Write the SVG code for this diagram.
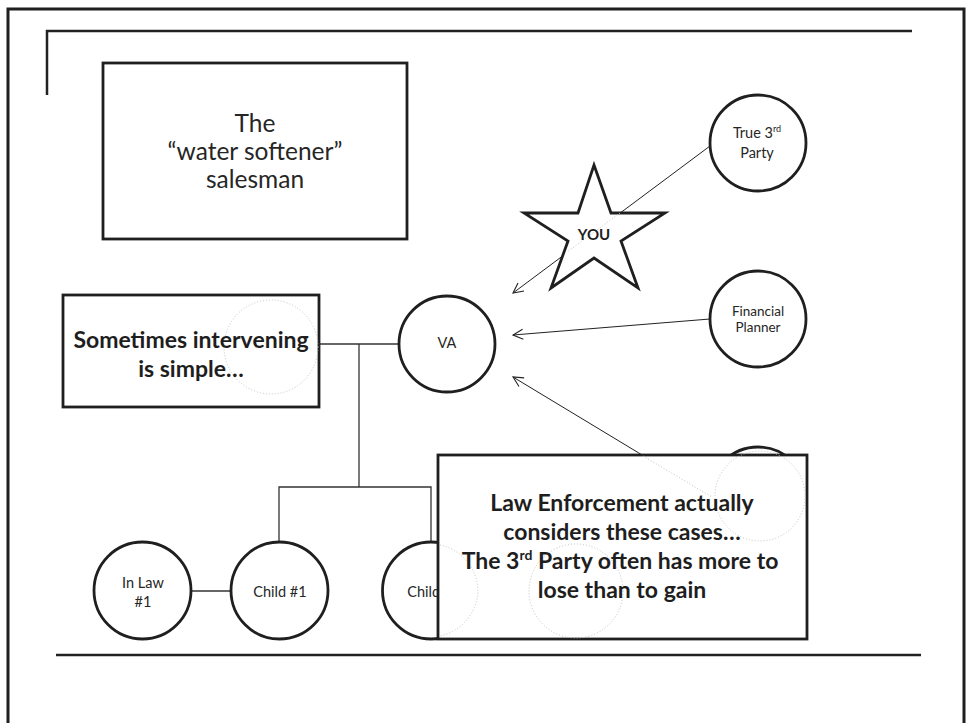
<svg xmlns="http://www.w3.org/2000/svg" width="969" height="723" viewBox="0 0 969 723">
  <style>
    .frame { fill: none; stroke: #1f1f1f; stroke-width: 3; }
    .rule { fill: none; stroke: #222; stroke-width: 2.5; }
    .shape { fill: #fff; stroke: #1f1f1f; stroke-width: 2.8; }
    .link { fill: none; stroke: #333; stroke-width: 1.3; }
    .arrow { fill: none; stroke: #222; stroke-width: 1; }
    .ghost { fill: none; stroke: #c4c4c4; stroke-width: 1; stroke-dasharray: 1 2; }
    .t { font-family: Lato, "Liberation Sans", sans-serif; fill: #262626; text-anchor: middle; }
    .big { font-size: 24.5px; }
    .bold { font-size: 23px; font-weight: bold; fill: #1e1e1e; }
    .small { font-size: 14.5px; }
    .tiny { font-size: 13.5px; }
    .you { font-size: 15px; font-weight: bold; fill: #1e1e1e; }
  </style>
  <defs>
    <marker id="open" viewBox="0 0 12 12" refX="11" refY="6" markerWidth="12" markerHeight="12" markerUnits="userSpaceOnUse" orient="auto">
      <path d="M1,1 L11,6 L1,11" fill="none" stroke="#222" stroke-width="1.1"/>
    </marker>
  </defs>

  <rect width="969" height="723" fill="#fff"/>

  <!-- page frame and header / footer rules -->
  <g id="frame">
    <path class="frame" d="M8,730 V9 H964 V730"/>
    <path class="rule" d="M47,95 V31 H912"/>
    <line class="rule" x1="56" y1="655" x2="921" y2="655"/>
  </g>

  <!-- connectors -->
  <g id="connectors">
    <line class="arrow" x1="710" y1="146" x2="513" y2="293" marker-end="url(#open)"/>
    <line class="arrow" x1="710" y1="319" x2="513" y2="335" marker-end="url(#open)"/>
    <line class="arrow" x1="710" y1="496" x2="513" y2="377" marker-end="url(#open)"/>
    <path class="link" d="M319,344 H399"/>
    <path class="link" d="M359,344 V487"/>
    <path class="link" d="M279,542 V487 H431 V542"/>
    <path class="link" d="M191,591 H231"/>
  </g>

  <g id="title-box">
    <rect class="shape" x="103" y="63" width="304" height="176"/>
    <text class="t big" x="255" y="132">The</text>
    <text class="t big" x="255" y="160">“water softener”</text>
    <text class="t big" x="255" y="188">salesman</text>
  </g>

  <g id="you">
    <polygon class="shape" points="594,165 611,213 665,213 621,241 638,288 594,258 551,288 568,241 524,213 578,213"/>
    <line class="ghost" x1="620" y1="213" x2="567" y2="252"/>
    <text class="t you" x="594" y="240">YOU</text>
  </g>

  <g id="true-third-party">
    <circle class="shape" cx="758" cy="143" r="48"/>
    <text class="t small" x="757" y="138">True 3<tspan font-size="9" dy="-6">rd</tspan></text>
    <text class="t small" x="757" y="158">Party</text>
  </g>

  <g id="financial-planner">
    <circle class="shape" cx="758" cy="319" r="48"/>
    <text class="t tiny" x="758" y="316">Financial</text>
    <text class="t tiny" x="758" y="332">Planner</text>
  </g>

  <g id="third-source">
    <circle class="shape" cx="758" cy="495" r="48"/>
  </g>

  <g id="va">
    <circle class="shape" cx="447" cy="344" r="48"/>
    <text class="t small" x="447" y="348">VA</text>
  </g>

  <g id="in-law-1">
    <circle class="shape" cx="142.5" cy="590.5" r="48.5"/>
    <text class="t small" x="143" y="588" font-size="15.5">In Law</text>
    <text class="t small" x="143" y="607" font-size="15.5">#1</text>
  </g>

  <g id="child-1">
    <circle class="shape" cx="279.5" cy="590.5" r="48.5"/>
    <text class="t small" x="280" y="597" font-size="15.5">Child #1</text>
  </g>

  <g id="child-2">
    <circle class="shape" cx="431" cy="590.5" r="48.5"/>
    <text class="t small" x="434" y="597" font-size="15.5">Child #2</text>
  </g>

  <g id="simple-note">
    <rect class="shape" x="63" y="295" width="256" height="112"/>
    <circle class="ghost" cx="271" cy="347" r="47"/>
    <text class="t bold" x="191" y="348">Sometimes intervening</text>
    <text class="t bold" x="191" y="377">is simple…</text>
  </g>

  <g id="law-note">
    <rect class="shape" x="438" y="455" width="369" height="184"/>
    <circle class="ghost" cx="760" cy="496" r="45"/>
    <circle class="ghost" cx="576" cy="591" r="47"/>
    <path class="ghost" d="M440,545 A48,48 0 0 1 478,590 A48,48 0 0 1 440,636"/>
    <line class="ghost" x1="643" y1="456" x2="712" y2="497"/>
    <text class="t bold" x="622" y="511">Law Enforcement actually</text>
    <text class="t bold" x="622" y="540">considers these cases…</text>
    <text class="t bold" x="620" y="569">The 3<tspan font-size="14" dy="-9">rd</tspan><tspan dy="9"> Party often has more to</tspan></text>
    <text class="t bold" x="622" y="598">lose than to gain</text>
  </g>
</svg>
